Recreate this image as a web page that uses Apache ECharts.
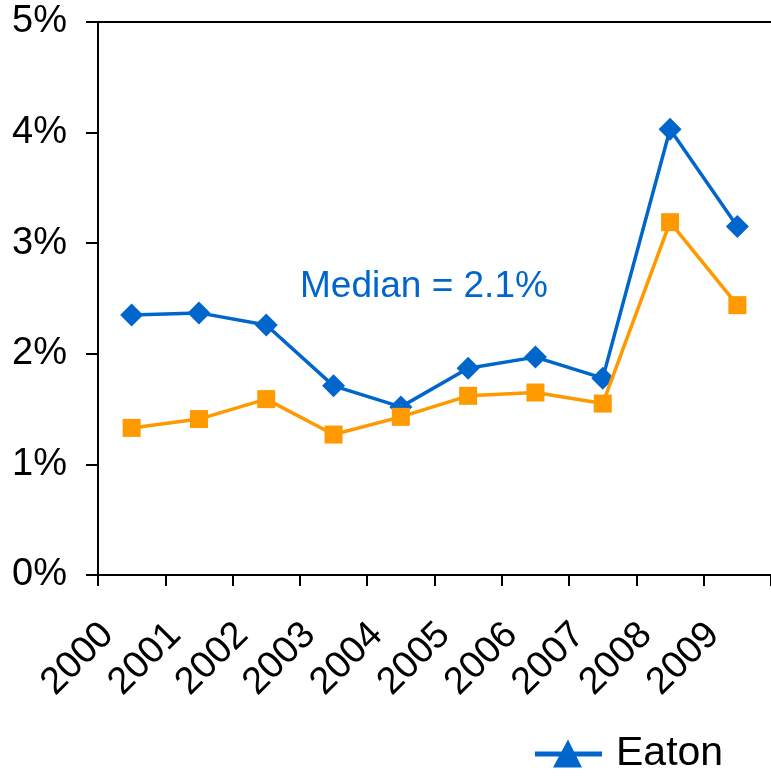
<!DOCTYPE html>
<html>
<head>
<meta charset="utf-8">
<style>
  html, body { margin: 0; padding: 0; background: #ffffff; }
  #chart { width: 771px; height: 777px; }
</style>
<script src="https://cdn.jsdelivr.net/npm/echarts@6/dist/echarts.min.js"></script>
</head>
<body>
<div id="chart"></div>
<script>
// Fiscal years on the category axis
const years = ['2000', '2001', '2002', '2003', '2004', '2005', '2006', '2007', '2008', '2009'];

// Eaton, percent
const eatonValues = [2.35, 2.37, 2.26, 1.71, 1.52, 1.87, 1.97, 1.78, 4.03, 3.15];

// Comparison group, percent
const peerValues = [1.33, 1.41, 1.59, 1.27, 1.43, 1.62, 1.65, 1.55, 3.19, 2.44];

// Value axis range and step, percent
const yMin = 0;
const yMax = 5;
const yStep = 1;

const medianNote = 'Median = 2.1%';

const BLUE = '#0066CC';
const ORANGE = '#FF9900';
const FONT = 'Liberation Sans, Arial, sans-serif';

const chart = echarts.init(document.getElementById('chart'), null, { renderer: 'canvas' });

chart.setOption({
  animation: false,
  backgroundColor: '#ffffff',
  grid: { left: 98, top: 22, width: 678, height: 553, containLabel: false },
  legend: {
    data: ['Eaton'],
    left: 530,
    top: 728,
    itemWidth: 67,
    itemHeight: 28,
    icon: 'path://M0,12 L67,12 L67,17 L0,17 Z M33,0 L47,28 L18,28 Z',
    textStyle: { fontFamily: FONT, fontSize: 41, color: '#000', padding: [14, 0, 0, 9] }
  },
  xAxis: [
    {
      type: 'category',
      data: years,
      boundaryGap: true,
      axisLine: { show: true, lineStyle: { color: '#000', width: 2 } },
      axisTick: { show: true, inside: false, length: 11, lineStyle: { color: '#000', width: 2 } },
      axisLabel: {
        interval: 0,
        rotate: 45,
        margin: 30,
        padding: [0, 34, 0, 0],
        fontFamily: FONT,
        fontSize: 38,
        color: '#000'
      },
      splitLine: { show: false }
    },
    {
      // plain frame line across the top of the plot
      type: 'category',
      position: 'top',
      data: years,
      axisLine: { show: true, lineStyle: { color: '#000', width: 2 } },
      axisTick: { show: false },
      axisLabel: { show: false },
      splitLine: { show: false }
    }
  ],
  yAxis: {
    type: 'value',
    min: yMin,
    max: yMax,
    interval: yStep,
    axisLine: { show: true, lineStyle: { color: '#000', width: 2 } },
    axisTick: { show: true, inside: false, length: 12, lineStyle: { color: '#000', width: 2 } },
    axisLabel: {
      margin: 31,
      fontFamily: FONT,
      fontSize: 38,
      color: '#000',
      formatter: v => v + '%'
    },
    splitLine: { show: false }
  },
  graphic: [
    {
      type: 'text',
      left: 300,
      top: 268,
      style: { text: medianNote, font: '37px ' + FONT, fill: BLUE }
    }
  ],
  series: [
    {
      name: 'Eaton',
      type: 'line',
      data: eatonValues,
      symbol: 'diamond',
      symbolSize: 23,
      lineStyle: { color: BLUE, width: 3.5 },
      itemStyle: { color: BLUE },
      z: 2
    },
    {
      name: 'Peer Group',
      type: 'line',
      data: peerValues,
      symbol: 'rect',
      symbolSize: 18,
      lineStyle: { color: ORANGE, width: 3.5 },
      itemStyle: { color: ORANGE },
      z: 3
    }
  ]
});
</script>
</body>
</html>
